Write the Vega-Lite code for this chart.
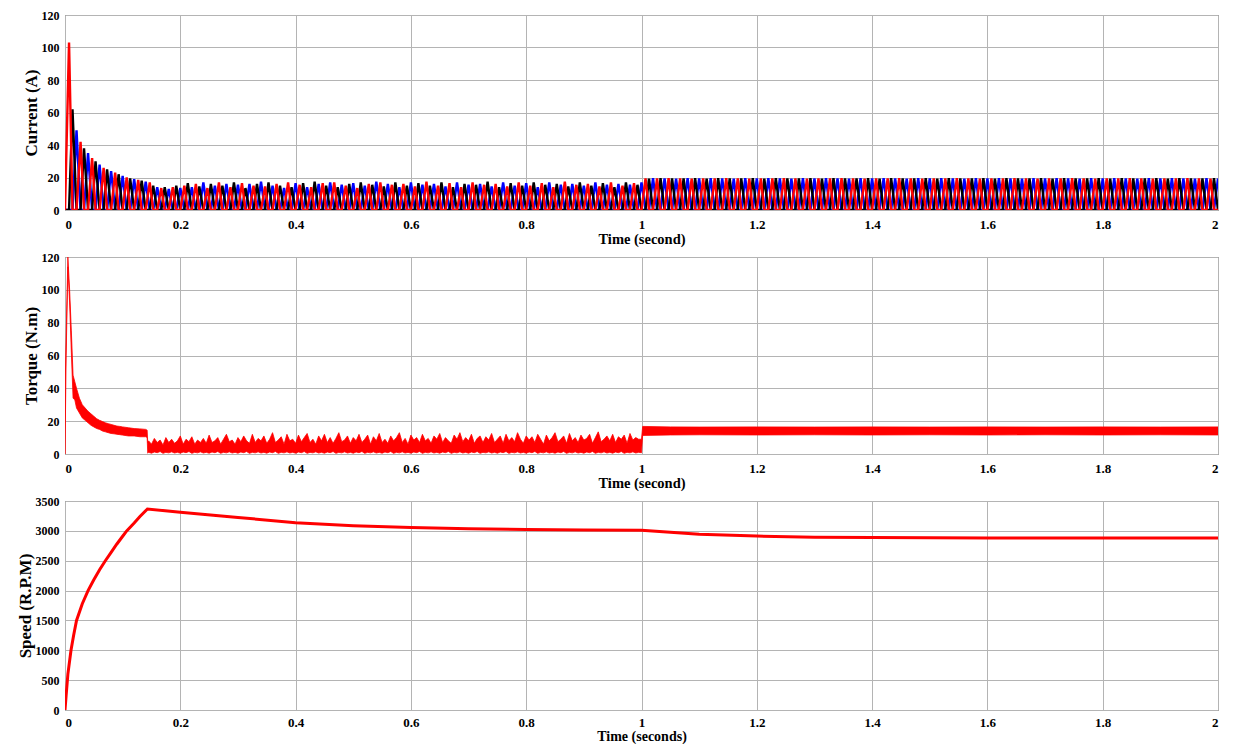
{
"$schema":"https://vega.github.io/schema/vega-lite/v6.json",
"padding":{"left":15,"top":8,"right":24,"bottom":0},
"spacing":4,
"config":{
"view":{"stroke":"#555555","strokeWidth":1},
"axis":{"labelFont":"Liberation Serif","labelFontWeight":"bold","labelFontSize":13,"labelColor":"#000","titleFont":"Liberation Serif","titleFontWeight":"bold","titleFontSize":15,"titleColor":"#000","gridColor":"#b4b4b4","gridWidth":1,"gridOpacity":1,"domain":false,"ticks":false},
"axisX":{"labelPadding":8,"titlePadding":1,"titleFontSize":14.5},
"axisY":{"labelPadding":6,"titlePadding":1,"labelFontSize":12,"titleFontSize":17}
},
"vconcat":[
{"width":1153,"height":195,
"data":{"values":[
{"t":0,"a":0,"b":0,"c":0},
{"t":0.007,"a":103,"b":0,"c":0},{"t":0.013,"a":0,"b":62,"c":0},{"t":0.02,"a":0,"b":0,"c":49},
{"t":0.027,"a":42,"b":0,"c":0},{"t":0.033,"a":0,"b":38,"c":0},{"t":0.04,"a":0,"b":0,"c":35},
{"t":0.047,"a":32,"b":0,"c":0},{"t":0.053,"a":0,"b":30,"c":0},{"t":0.06,"a":0,"b":0,"c":28},
{"t":0.067,"a":26,"b":0,"c":0},{"t":0.073,"a":0,"b":25,"c":0},{"t":0.08,"a":0,"b":0,"c":24},
{"t":0.087,"a":23,"b":0,"c":0},{"t":0.093,"a":0,"b":22,"c":0},{"t":0.1,"a":0,"b":0,"c":21},
{"t":0.107,"a":20,"b":0,"c":0},{"t":0.113,"a":0,"b":19.5,"c":0},{"t":0.12,"a":0,"b":0,"c":19},
{"t":0.127,"a":18.5,"b":0,"c":0},{"t":0.133,"a":0,"b":18,"c":0},{"t":0.14,"a":0,"b":0,"c":17.5},
{"t":0.147,"a":17,"b":0,"c":0},{"t":0.153,"a":0,"b":15,"c":0},{"t":0.16,"a":0,"b":0,"c":14},
{"t":0.167,"a":13.5,"b":0,"c":0},{"t":0.173,"a":0,"b":14,"c":0},{"t":0.18,"a":0,"b":0,"c":13},
{"t":0.187,"a":14,"b":0,"c":0},{"t":0.193,"a":0,"b":15,"c":0},{"t":0.2,"a":0,"b":0,"c":13.5},
{"t":0.207,"a":15,"b":0,"c":0},{"t":0.213,"a":0,"b":16.5,"c":0},{"t":0.22,"a":0,"b":0,"c":14},
{"t":0.227,"a":16,"b":0,"c":0},{"t":0.233,"a":0,"b":14.5,"c":0},{"t":0.24,"a":0,"b":0,"c":17},
{"t":0.247,"a":13.5,"b":0,"c":0},{"t":0.253,"a":0,"b":16,"c":0},{"t":0.26,"a":0,"b":0,"c":15},
{"t":0.267,"a":17,"b":0,"c":0},{"t":0.273,"a":0,"b":15,"c":0},{"t":0.28,"a":0,"b":0,"c":16},
{"t":0.287,"a":14,"b":0,"c":0},{"t":0.293,"a":0,"b":17,"c":0},{"t":0.3,"a":0,"b":0,"c":15.5},
{"t":0.307,"a":16.5,"b":0,"c":0},{"t":0.313,"a":0,"b":13.5,"c":0},{"t":0.32,"a":0,"b":0,"c":16},
{"t":0.327,"a":15,"b":0,"c":0},{"t":0.333,"a":0,"b":16,"c":0},{"t":0.34,"a":0,"b":0,"c":17.5},
{"t":0.347,"a":14.5,"b":0,"c":0},{"t":0.353,"a":0,"b":17,"c":0},{"t":0.36,"a":0,"b":0,"c":15},
{"t":0.367,"a":16,"b":0,"c":0},{"t":0.373,"a":0,"b":15,"c":0},{"t":0.38,"a":0,"b":0,"c":13.5},
{"t":0.387,"a":17,"b":0,"c":0},{"t":0.393,"a":0,"b":14,"c":0},{"t":0.4,"a":0,"b":0,"c":16.5},
{"t":0.407,"a":15.5,"b":0,"c":0},{"t":0.413,"a":0,"b":16.5,"c":0},{"t":0.42,"a":0,"b":0,"c":14},
{"t":0.427,"a":14,"b":0,"c":0},{"t":0.433,"a":0,"b":17.5,"c":0},{"t":0.44,"a":0,"b":0,"c":16},
{"t":0.447,"a":16.5,"b":0,"c":0},{"t":0.453,"a":0,"b":15,"c":0},{"t":0.46,"a":0,"b":0,"c":17},
{"t":0.467,"a":17,"b":0,"c":0},{"t":0.473,"a":0,"b":14,"c":0},{"t":0.48,"a":0,"b":0,"c":15.5},
{"t":0.487,"a":15,"b":0,"c":0},{"t":0.493,"a":0,"b":16,"c":0},{"t":0.5,"a":0,"b":0,"c":16.5},
{"t":0.507,"a":13.5,"b":0,"c":0},{"t":0.513,"a":0,"b":17,"c":0},{"t":0.52,"a":0,"b":0,"c":15},
{"t":0.527,"a":16,"b":0,"c":0},{"t":0.533,"a":0,"b":15.5,"c":0},{"t":0.54,"a":0,"b":0,"c":17.5},
{"t":0.547,"a":17,"b":0,"c":0},{"t":0.553,"a":0,"b":14.5,"c":0},{"t":0.56,"a":0,"b":0,"c":16},
{"t":0.567,"a":15.5,"b":0,"c":0},{"t":0.573,"a":0,"b":17,"c":0},{"t":0.58,"a":0,"b":0,"c":14},
{"t":0.587,"a":16,"b":0,"c":0},{"t":0.593,"a":0,"b":15,"c":0},{"t":0.6,"a":0,"b":0,"c":17},
{"t":0.607,"a":14.5,"b":0,"c":0},{"t":0.613,"a":0,"b":16.5,"c":0},{"t":0.62,"a":0,"b":0,"c":15.5},
{"t":0.627,"a":17.5,"b":0,"c":0},{"t":0.633,"a":0,"b":15,"c":0},{"t":0.64,"a":0,"b":0,"c":16},
{"t":0.647,"a":15,"b":0,"c":0},{"t":0.653,"a":0,"b":17,"c":0},{"t":0.66,"a":0,"b":0,"c":14.5},
{"t":0.667,"a":16.5,"b":0,"c":0},{"t":0.673,"a":0,"b":14,"c":0},{"t":0.68,"a":0,"b":0,"c":17},
{"t":0.687,"a":14,"b":0,"c":0},{"t":0.693,"a":0,"b":16,"c":0},{"t":0.7,"a":0,"b":0,"c":15.5},
{"t":0.707,"a":17,"b":0,"c":0},{"t":0.713,"a":0,"b":15.5,"c":0},{"t":0.72,"a":0,"b":0,"c":16},
{"t":0.727,"a":15.5,"b":0,"c":0},{"t":0.733,"a":0,"b":17.5,"c":0},{"t":0.74,"a":0,"b":0,"c":14.5},
{"t":0.747,"a":16,"b":0,"c":0},{"t":0.753,"a":0,"b":14,"c":0},{"t":0.76,"a":0,"b":0,"c":17},
{"t":0.767,"a":14.5,"b":0,"c":0},{"t":0.773,"a":0,"b":16.5,"c":0},{"t":0.78,"a":0,"b":0,"c":15},
{"t":0.787,"a":17,"b":0,"c":0},{"t":0.793,"a":0,"b":15,"c":0},{"t":0.8,"a":0,"b":0,"c":16.5},
{"t":0.807,"a":15,"b":0,"c":0},{"t":0.813,"a":0,"b":17,"c":0},{"t":0.82,"a":0,"b":0,"c":14},
{"t":0.827,"a":16.5,"b":0,"c":0},{"t":0.833,"a":0,"b":15.5,"c":0},{"t":0.84,"a":0,"b":0,"c":17},
{"t":0.847,"a":14,"b":0,"c":0},{"t":0.853,"a":0,"b":16,"c":0},{"t":0.86,"a":0,"b":0,"c":15.5},
{"t":0.867,"a":17.5,"b":0,"c":0},{"t":0.873,"a":0,"b":14.5,"c":0},{"t":0.88,"a":0,"b":0,"c":16},
{"t":0.887,"a":15.5,"b":0,"c":0},{"t":0.893,"a":0,"b":17,"c":0},{"t":0.9,"a":0,"b":0,"c":15},
{"t":0.907,"a":16,"b":0,"c":0},{"t":0.913,"a":0,"b":15,"c":0},{"t":0.92,"a":0,"b":0,"c":17},
{"t":0.927,"a":14.5,"b":0,"c":0},{"t":0.933,"a":0,"b":16.5,"c":0},{"t":0.94,"a":0,"b":0,"c":15.5},
{"t":0.947,"a":17,"b":0,"c":0},{"t":0.953,"a":0,"b":14,"c":0},{"t":0.96,"a":0,"b":0,"c":16},
{"t":0.967,"a":15,"b":0,"c":0},{"t":0.973,"a":0,"b":17,"c":0},{"t":0.98,"a":0,"b":0,"c":15.5},
{"t":0.987,"a":16.5,"b":0,"c":0},{"t":0.993,"a":0,"b":15.5,"c":0},{"t":1.0,"a":0,"b":0,"c":17},
{"t":1.007,"a":19.5,"b":0,"c":0},{"t":1.013,"a":0,"b":19.3,"c":0},{"t":1.02,"a":0,"b":0,"c":19.6},
{"t":1.027,"a":19.4,"b":0,"c":0},{"t":1.033,"a":0,"b":19.6,"c":0},{"t":1.04,"a":0,"b":0,"c":19.5},
{"t":1.047,"a":19.6,"b":0,"c":0},{"t":1.053,"a":0,"b":19.4,"c":0},{"t":1.06,"a":0,"b":0,"c":19.3},
{"t":1.067,"a":19.5,"b":0,"c":0},{"t":1.073,"a":0,"b":19.5,"c":0},{"t":1.08,"a":0,"b":0,"c":19.6},
{"t":1.087,"a":19.3,"b":0,"c":0},{"t":1.093,"a":0,"b":19.6,"c":0},{"t":1.1,"a":0,"b":0,"c":19.4},
{"t":1.107,"a":19.5,"b":0,"c":0},{"t":1.113,"a":0,"b":19.3,"c":0},{"t":1.12,"a":0,"b":0,"c":19.6},
{"t":1.127,"a":19.4,"b":0,"c":0},{"t":1.133,"a":0,"b":19.6,"c":0},{"t":1.14,"a":0,"b":0,"c":19.5},
{"t":1.147,"a":19.6,"b":0,"c":0},{"t":1.153,"a":0,"b":19.4,"c":0},{"t":1.16,"a":0,"b":0,"c":19.3},
{"t":1.167,"a":19.5,"b":0,"c":0},{"t":1.173,"a":0,"b":19.5,"c":0},{"t":1.18,"a":0,"b":0,"c":19.6},
{"t":1.187,"a":19.3,"b":0,"c":0},{"t":1.193,"a":0,"b":19.6,"c":0},{"t":1.2,"a":0,"b":0,"c":19.4},
{"t":1.207,"a":19.5,"b":0,"c":0},{"t":1.213,"a":0,"b":19.3,"c":0},{"t":1.22,"a":0,"b":0,"c":19.6},
{"t":1.227,"a":19.4,"b":0,"c":0},{"t":1.233,"a":0,"b":19.6,"c":0},{"t":1.24,"a":0,"b":0,"c":19.5},
{"t":1.247,"a":19.6,"b":0,"c":0},{"t":1.253,"a":0,"b":19.4,"c":0},{"t":1.26,"a":0,"b":0,"c":19.3},
{"t":1.267,"a":19.5,"b":0,"c":0},{"t":1.273,"a":0,"b":19.5,"c":0},{"t":1.28,"a":0,"b":0,"c":19.6},
{"t":1.287,"a":19.3,"b":0,"c":0},{"t":1.293,"a":0,"b":19.6,"c":0},{"t":1.3,"a":0,"b":0,"c":19.4},
{"t":1.307,"a":19.5,"b":0,"c":0},{"t":1.313,"a":0,"b":19.3,"c":0},{"t":1.32,"a":0,"b":0,"c":19.6},
{"t":1.327,"a":19.4,"b":0,"c":0},{"t":1.333,"a":0,"b":19.6,"c":0},{"t":1.34,"a":0,"b":0,"c":19.5},
{"t":1.347,"a":19.6,"b":0,"c":0},{"t":1.353,"a":0,"b":19.4,"c":0},{"t":1.36,"a":0,"b":0,"c":19.3},
{"t":1.367,"a":19.5,"b":0,"c":0},{"t":1.373,"a":0,"b":19.5,"c":0},{"t":1.38,"a":0,"b":0,"c":19.6},
{"t":1.387,"a":19.3,"b":0,"c":0},{"t":1.393,"a":0,"b":19.6,"c":0},{"t":1.4,"a":0,"b":0,"c":19.4},
{"t":1.407,"a":19.5,"b":0,"c":0},{"t":1.413,"a":0,"b":19.3,"c":0},{"t":1.42,"a":0,"b":0,"c":19.6},
{"t":1.427,"a":19.4,"b":0,"c":0},{"t":1.433,"a":0,"b":19.6,"c":0},{"t":1.44,"a":0,"b":0,"c":19.5},
{"t":1.447,"a":19.6,"b":0,"c":0},{"t":1.453,"a":0,"b":19.4,"c":0},{"t":1.46,"a":0,"b":0,"c":19.3},
{"t":1.467,"a":19.5,"b":0,"c":0},{"t":1.473,"a":0,"b":19.5,"c":0},{"t":1.48,"a":0,"b":0,"c":19.6},
{"t":1.487,"a":19.3,"b":0,"c":0},{"t":1.493,"a":0,"b":19.6,"c":0},{"t":1.5,"a":0,"b":0,"c":19.4},
{"t":1.507,"a":19.5,"b":0,"c":0},{"t":1.513,"a":0,"b":19.3,"c":0},{"t":1.52,"a":0,"b":0,"c":19.6},
{"t":1.527,"a":19.4,"b":0,"c":0},{"t":1.533,"a":0,"b":19.6,"c":0},{"t":1.54,"a":0,"b":0,"c":19.5},
{"t":1.547,"a":19.6,"b":0,"c":0},{"t":1.553,"a":0,"b":19.4,"c":0},{"t":1.56,"a":0,"b":0,"c":19.3},
{"t":1.567,"a":19.5,"b":0,"c":0},{"t":1.573,"a":0,"b":19.5,"c":0},{"t":1.58,"a":0,"b":0,"c":19.6},
{"t":1.587,"a":19.3,"b":0,"c":0},{"t":1.593,"a":0,"b":19.6,"c":0},{"t":1.6,"a":0,"b":0,"c":19.4},
{"t":1.607,"a":19.5,"b":0,"c":0},{"t":1.613,"a":0,"b":19.3,"c":0},{"t":1.62,"a":0,"b":0,"c":19.6},
{"t":1.627,"a":19.4,"b":0,"c":0},{"t":1.633,"a":0,"b":19.6,"c":0},{"t":1.64,"a":0,"b":0,"c":19.5},
{"t":1.647,"a":19.6,"b":0,"c":0},{"t":1.653,"a":0,"b":19.4,"c":0},{"t":1.66,"a":0,"b":0,"c":19.3},
{"t":1.667,"a":19.5,"b":0,"c":0},{"t":1.673,"a":0,"b":19.5,"c":0},{"t":1.68,"a":0,"b":0,"c":19.6},
{"t":1.687,"a":19.3,"b":0,"c":0},{"t":1.693,"a":0,"b":19.6,"c":0},{"t":1.7,"a":0,"b":0,"c":19.4},
{"t":1.707,"a":19.5,"b":0,"c":0},{"t":1.713,"a":0,"b":19.3,"c":0},{"t":1.72,"a":0,"b":0,"c":19.6},
{"t":1.727,"a":19.4,"b":0,"c":0},{"t":1.733,"a":0,"b":19.6,"c":0},{"t":1.74,"a":0,"b":0,"c":19.5},
{"t":1.747,"a":19.6,"b":0,"c":0},{"t":1.753,"a":0,"b":19.4,"c":0},{"t":1.76,"a":0,"b":0,"c":19.3},
{"t":1.767,"a":19.5,"b":0,"c":0},{"t":1.773,"a":0,"b":19.5,"c":0},{"t":1.78,"a":0,"b":0,"c":19.6},
{"t":1.787,"a":19.3,"b":0,"c":0},{"t":1.793,"a":0,"b":19.6,"c":0},{"t":1.8,"a":0,"b":0,"c":19.4},
{"t":1.807,"a":19.5,"b":0,"c":0},{"t":1.813,"a":0,"b":19.3,"c":0},{"t":1.82,"a":0,"b":0,"c":19.6},
{"t":1.827,"a":19.4,"b":0,"c":0},{"t":1.833,"a":0,"b":19.6,"c":0},{"t":1.84,"a":0,"b":0,"c":19.5},
{"t":1.847,"a":19.6,"b":0,"c":0},{"t":1.853,"a":0,"b":19.4,"c":0},{"t":1.86,"a":0,"b":0,"c":19.3},
{"t":1.867,"a":19.5,"b":0,"c":0},{"t":1.873,"a":0,"b":19.5,"c":0},{"t":1.88,"a":0,"b":0,"c":19.6},
{"t":1.887,"a":19.3,"b":0,"c":0},{"t":1.893,"a":0,"b":19.6,"c":0},{"t":1.9,"a":0,"b":0,"c":19.4},
{"t":1.907,"a":19.5,"b":0,"c":0},{"t":1.913,"a":0,"b":19.3,"c":0},{"t":1.92,"a":0,"b":0,"c":19.6},
{"t":1.927,"a":19.4,"b":0,"c":0},{"t":1.933,"a":0,"b":19.6,"c":0},{"t":1.94,"a":0,"b":0,"c":19.5},
{"t":1.947,"a":19.6,"b":0,"c":0},{"t":1.953,"a":0,"b":19.4,"c":0},{"t":1.96,"a":0,"b":0,"c":19.3},
{"t":1.967,"a":19.5,"b":0,"c":0},{"t":1.973,"a":0,"b":19.5,"c":0},{"t":1.98,"a":0,"b":0,"c":19.6},
{"t":1.987,"a":19.3,"b":0,"c":0},{"t":1.993,"a":0,"b":19.6,"c":0},{"t":2.0,"a":0,"b":0,"c":19.4}
]},
"transform":[{"fold":["c","b","a"],"as":["phase","I"]}],
"mark":{"type":"line","strokeWidth":2.4,"clip":true},
"encoding":{
"x":{"field":"t","type":"quantitative","scale":{"domain":[0,2],"nice":false},"axis":{"values":[0,0.2,0.4,0.6,0.8,1,1.2,1.4,1.6,1.8,2],"format":"~g","title":"Time (second)"}},
"y":{"field":"I","type":"quantitative","scale":{"domain":[0,120],"nice":false},"axis":{"values":[0,20,40,60,80,100,120],"title":"Current (A)"}},
"color":{"field":"phase","type":"nominal","scale":{"domain":["c","b","a"],"range":["#0000ff","#000000","#ff0000"]},"legend":null},
"order":{"field":"t","type":"quantitative"}
}},
{"width":1153,"height":197,
"data":{"values":[
{"t":0,"lo":0,"hi":35},{"t":0.002,"lo":60,"hi":72},{"t":0.005,"lo":114,"hi":120},{"t":0.008,"lo":92,"hi":100},{"t":0.011,"lo":62,"hi":75},{"t":0.014,"lo":34,"hi":48},{"t":0.017,"lo":33,"hi":44},{"t":0.02,"lo":28,"hi":40},{"t":0.025,"lo":25,"hi":34},{"t":0.03,"lo":22,"hi":30},{"t":0.035,"lo":20.5,"hi":28},{"t":0.04,"lo":19,"hi":26},{"t":0.045,"lo":17.5,"hi":24.5},{"t":0.05,"lo":16.5,"hi":23},{"t":0.055,"lo":15.5,"hi":21.5},{"t":0.06,"lo":15,"hi":20.5},{"t":0.065,"lo":14,"hi":19.8},{"t":0.07,"lo":13.5,"hi":19},{"t":0.075,"lo":13,"hi":18.5},{"t":0.08,"lo":12.5,"hi":18},{"t":0.085,"lo":12.3,"hi":17.5},{"t":0.09,"lo":12,"hi":17},{"t":0.095,"lo":11.8,"hi":16.8},{"t":0.1,"lo":11.5,"hi":16.5},{"t":0.11,"lo":11,"hi":16},{"t":0.12,"lo":11,"hi":15.5},{"t":0.13,"lo":10.5,"hi":15.3},{"t":0.14,"lo":10.5,"hi":15},{"t":0.1425,"lo":10,"hi":14.5},{"t":0.1435,"lo":0.5,"hi":7},
{"t":0.145,"lo":1,"hi":8},{"t":0.15,"lo":0.5,"hi":6},{"t":0.155,"lo":1.2,"hi":9.5},{"t":0.16,"lo":0.8,"hi":7},{"t":0.165,"lo":1.5,"hi":8.5},{"t":0.17,"lo":0.4,"hi":5.5},{"t":0.175,"lo":1,"hi":10},{"t":0.18,"lo":0.7,"hi":7},{"t":0.185,"lo":1.3,"hi":9},{"t":0.19,"lo":0.6,"hi":6.5},
{"t":0.195,"lo":1,"hi":8},{"t":0.2,"lo":0.5,"hi":11},{"t":0.205,"lo":1.2,"hi":6},{"t":0.21,"lo":0.8,"hi":9},{"t":0.215,"lo":1.5,"hi":7.5},{"t":0.22,"lo":0.4,"hi":10.5},{"t":0.225,"lo":1,"hi":6},{"t":0.23,"lo":0.7,"hi":8.5},{"t":0.235,"lo":1.3,"hi":7},{"t":0.24,"lo":0.6,"hi":9.5},
{"t":0.245,"lo":1,"hi":6.5},{"t":0.25,"lo":0.5,"hi":11.5},{"t":0.255,"lo":1.2,"hi":7},{"t":0.26,"lo":0.8,"hi":8},{"t":0.265,"lo":1.5,"hi":10},{"t":0.27,"lo":0.4,"hi":6},{"t":0.275,"lo":1,"hi":9},{"t":0.28,"lo":0.7,"hi":12},{"t":0.285,"lo":1.3,"hi":7.5},{"t":0.29,"lo":0.6,"hi":8.5},
{"t":0.295,"lo":1,"hi":6},{"t":0.3,"lo":0.5,"hi":10},{"t":0.305,"lo":1.2,"hi":7.5},{"t":0.31,"lo":0.8,"hi":11},{"t":0.315,"lo":1.5,"hi":8},{"t":0.32,"lo":0.4,"hi":6.5},{"t":0.325,"lo":1,"hi":12},{"t":0.33,"lo":0.7,"hi":7},{"t":0.335,"lo":1.3,"hi":9.5},{"t":0.34,"lo":0.6,"hi":8},
{"t":0.345,"lo":1,"hi":11},{"t":0.35,"lo":0.5,"hi":6.5},{"t":0.355,"lo":1.2,"hi":9},{"t":0.36,"lo":0.8,"hi":13},{"t":0.365,"lo":1.5,"hi":7},{"t":0.37,"lo":0.4,"hi":8.5},{"t":0.375,"lo":1,"hi":10.5},{"t":0.38,"lo":0.7,"hi":6},{"t":0.385,"lo":1.3,"hi":12},{"t":0.39,"lo":0.6,"hi":8},
{"t":0.395,"lo":1,"hi":9},{"t":0.4,"lo":0.5,"hi":6.5},{"t":0.405,"lo":1.2,"hi":11.5},{"t":0.41,"lo":0.8,"hi":7.5},{"t":0.415,"lo":1.5,"hi":10},{"t":0.42,"lo":0.4,"hi":12.5},{"t":0.425,"lo":1,"hi":7},{"t":0.43,"lo":0.7,"hi":9},{"t":0.435,"lo":1.3,"hi":6},{"t":0.44,"lo":0.6,"hi":11},
{"t":0.445,"lo":1,"hi":8},{"t":0.45,"lo":0.5,"hi":12},{"t":0.455,"lo":1.2,"hi":7},{"t":0.46,"lo":0.8,"hi":10},{"t":0.465,"lo":1.5,"hi":6.5},{"t":0.47,"lo":0.4,"hi":9.5},{"t":0.475,"lo":1,"hi":13},{"t":0.48,"lo":0.7,"hi":7.5},{"t":0.485,"lo":1.3,"hi":8.5},{"t":0.49,"lo":0.6,"hi":11},
{"t":0.495,"lo":1,"hi":6.5},{"t":0.5,"lo":0.5,"hi":10},{"t":0.505,"lo":1.2,"hi":8},{"t":0.51,"lo":0.8,"hi":12},{"t":0.515,"lo":1.5,"hi":7},{"t":0.52,"lo":0.4,"hi":9},{"t":0.525,"lo":1,"hi":11.5},{"t":0.53,"lo":0.7,"hi":6},{"t":0.535,"lo":1.3,"hi":10.5},{"t":0.54,"lo":0.6,"hi":8},
{"t":0.545,"lo":1,"hi":12.5},{"t":0.55,"lo":0.5,"hi":7},{"t":0.555,"lo":1.2,"hi":9},{"t":0.56,"lo":0.8,"hi":6.5},{"t":0.565,"lo":1.5,"hi":11},{"t":0.57,"lo":0.4,"hi":8},{"t":0.575,"lo":1,"hi":10},{"t":0.58,"lo":0.7,"hi":13},{"t":0.585,"lo":1.3,"hi":7},{"t":0.59,"lo":0.6,"hi":9.5},
{"t":0.595,"lo":1,"hi":6},{"t":0.6,"lo":0.5,"hi":11.5},{"t":0.605,"lo":1.2,"hi":8.5},{"t":0.61,"lo":0.8,"hi":10},{"t":0.615,"lo":1.5,"hi":7},{"t":0.62,"lo":0.4,"hi":12},{"t":0.625,"lo":1,"hi":8},{"t":0.63,"lo":0.7,"hi":9.5},{"t":0.635,"lo":1.3,"hi":6.5},{"t":0.64,"lo":0.6,"hi":11},
{"t":0.645,"lo":1,"hi":9},{"t":0.65,"lo":0.5,"hi":12.5},{"t":0.655,"lo":1.2,"hi":7},{"t":0.66,"lo":0.8,"hi":10},{"t":0.665,"lo":1.5,"hi":8},{"t":0.67,"lo":0.4,"hi":6.5},{"t":0.675,"lo":1,"hi":11.5},{"t":0.68,"lo":0.7,"hi":9},{"t":0.685,"lo":1.3,"hi":13},{"t":0.69,"lo":0.6,"hi":7.5},
{"t":0.695,"lo":1,"hi":10},{"t":0.7,"lo":0.5,"hi":8},{"t":0.705,"lo":1.2,"hi":12},{"t":0.71,"lo":0.8,"hi":6.5},{"t":0.715,"lo":1.5,"hi":9.5},{"t":0.72,"lo":0.4,"hi":11},{"t":0.725,"lo":1,"hi":7},{"t":0.73,"lo":0.7,"hi":10.5},{"t":0.735,"lo":1.3,"hi":8.5},{"t":0.74,"lo":0.6,"hi":12.5},
{"t":0.745,"lo":1,"hi":7},{"t":0.75,"lo":0.5,"hi":9},{"t":0.755,"lo":1.2,"hi":11},{"t":0.76,"lo":0.8,"hi":6.5},{"t":0.765,"lo":1.5,"hi":12},{"t":0.77,"lo":0.4,"hi":8},{"t":0.775,"lo":1,"hi":10},{"t":0.78,"lo":0.7,"hi":7.5},{"t":0.785,"lo":1.3,"hi":13},{"t":0.79,"lo":0.6,"hi":9},
{"t":0.795,"lo":1,"hi":6.5},{"t":0.8,"lo":0.5,"hi":11},{"t":0.805,"lo":1.2,"hi":8.5},{"t":0.81,"lo":0.8,"hi":10.5},{"t":0.815,"lo":1.5,"hi":7},{"t":0.82,"lo":0.4,"hi":12},{"t":0.825,"lo":1,"hi":9},{"t":0.83,"lo":0.7,"hi":6},{"t":0.835,"lo":1.3,"hi":11.5},{"t":0.84,"lo":0.6,"hi":8},
{"t":0.845,"lo":1,"hi":10},{"t":0.85,"lo":0.5,"hi":13},{"t":0.855,"lo":1.2,"hi":7.5},{"t":0.86,"lo":0.8,"hi":9},{"t":0.865,"lo":1.5,"hi":11},{"t":0.87,"lo":0.4,"hi":6.5},{"t":0.875,"lo":1,"hi":12.5},{"t":0.88,"lo":0.7,"hi":8},{"t":0.885,"lo":1.3,"hi":10},{"t":0.89,"lo":0.6,"hi":7},
{"t":0.895,"lo":1,"hi":11.5},{"t":0.9,"lo":0.5,"hi":8.5},{"t":0.905,"lo":1.2,"hi":9.5},{"t":0.91,"lo":0.8,"hi":12},{"t":0.915,"lo":1.5,"hi":6.5},{"t":0.92,"lo":0.4,"hi":10},{"t":0.925,"lo":1,"hi":13.5},{"t":0.93,"lo":0.7,"hi":7.5},{"t":0.935,"lo":1.3,"hi":9},{"t":0.94,"lo":0.6,"hi":11},
{"t":0.945,"lo":1,"hi":8},{"t":0.95,"lo":0.5,"hi":12},{"t":0.955,"lo":1.2,"hi":7},{"t":0.96,"lo":0.8,"hi":10.5},{"t":0.965,"lo":1.5,"hi":9},{"t":0.97,"lo":0.4,"hi":11.5},{"t":0.975,"lo":1,"hi":6.5},{"t":0.98,"lo":0.7,"hi":12.5},{"t":0.985,"lo":1.3,"hi":8.5},{"t":0.99,"lo":0.6,"hi":10},
{"t":0.995,"lo":1,"hi":9},{"t":1.0,"lo":0.8,"hi":9},{"t":1.002,"lo":11.3,"hi":16.8},{"t":1.05,"lo":11.6,"hi":16.5},{"t":1.1,"lo":11.7,"hi":16.4},{"t":1.2,"lo":11.6,"hi":16.5},{"t":1.3,"lo":11.7,"hi":16.4},{"t":1.4,"lo":11.6,"hi":16.5},{"t":1.5,"lo":11.7,"hi":16.4},{"t":1.6,"lo":11.6,"hi":16.5},{"t":1.7,"lo":11.7,"hi":16.4},{"t":1.8,"lo":11.6,"hi":16.5},{"t":1.9,"lo":11.7,"hi":16.4},{"t":2.0,"lo":11.6,"hi":16.5}
]},
"mark":{"type":"area","color":"#ff0000","stroke":"#ff0000","strokeWidth":0.8,"opacity":1,"clip":true},
"encoding":{
"x":{"field":"t","type":"quantitative","scale":{"domain":[0,2],"nice":false},"axis":{"values":[0,0.2,0.4,0.6,0.8,1,1.2,1.4,1.6,1.8,2],"format":"~g","title":"Time (second)"}},
"y":{"field":"lo","type":"quantitative","scale":{"domain":[0,120],"nice":false},"axis":{"values":[0,20,40,60,80,100,120],"title":"Torque (N.m)"}},
"y2":{"field":"hi"}
}},
{"width":1153,"height":209,
"data":{"values":[
{"t":0,"v":0},{"t":0.002,"v":250},{"t":0.005,"v":600},{"t":0.0104,"v":1000},{"t":0.015,"v":1250},{"t":0.02,"v":1500},{"t":0.03,"v":1780},{"t":0.04,"v":2000},{"t":0.05,"v":2180},{"t":0.06,"v":2350},{"t":0.07,"v":2500},{"t":0.08,"v":2640},{"t":0.09,"v":2780},{"t":0.1,"v":2910},{"t":0.107,"v":3000},{"t":0.12,"v":3130},{"t":0.13,"v":3240},{"t":0.143,"v":3367},{"t":0.2,"v":3310},{"t":0.3,"v":3225},{"t":0.4,"v":3135},{"t":0.5,"v":3085},{"t":0.6,"v":3055},{"t":0.7,"v":3035},{"t":0.8,"v":3022},{"t":0.9,"v":3015},{"t":1.0,"v":3010},{"t":1.05,"v":2975},{"t":1.1,"v":2945},{"t":1.2,"v":2912},{"t":1.3,"v":2895},{"t":1.4,"v":2888},{"t":1.6,"v":2882},{"t":2.0,"v":2880}
]},
"mark":{"type":"line","color":"#ff0000","strokeWidth":3,"clip":true},
"encoding":{
"x":{"field":"t","type":"quantitative","scale":{"domain":[0,2],"nice":false},"axis":{"values":[0,0.2,0.4,0.6,0.8,1,1.2,1.4,1.6,1.8,2],"format":"~g","title":"Time (seconds)","labelPadding":6,"titlePadding":0,"titleFontSize":14}},
"y":{"field":"v","type":"quantitative","scale":{"domain":[0,3500],"nice":false},"axis":{"values":[0,500,1000,1500,2000,2500,3000,3500],"format":"d","title":"Speed (R.P.M)"}}
}}
]
}
